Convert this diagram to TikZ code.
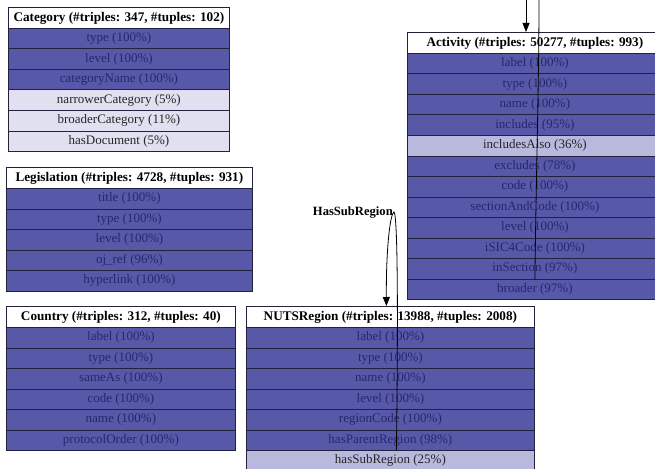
\documentclass[tikz,border=0pt]{standalone}
\usepackage{fontspec}
\setmainfont{Liberation Serif}
\usetikzlibrary{arrows.meta}
\definecolor{dk}{HTML}{5759A8}
\definecolor{md}{HTML}{B9B9DE}
\definecolor{lt}{HTML}{E0E0F0}
\definecolor{dkt}{HTML}{25276E}
\definecolor{edge}{HTML}{22223F}
\tikzset{
  cell/.style={draw=edge, line width=0.8pt, minimum height=20.5pt, inner sep=0pt,
    anchor=north west, font=\fontsize{13}{14}\selectfont},
  head/.style={cell, fill=white, minimum height=21pt, font=\bfseries\fontsize{13.2}{14}\selectfont},
  dkrow/.style={cell, fill=dk, text=dkt},
  mdrow/.style={cell, fill=md, text=black!85},
  ltrow/.style={cell, fill=lt, text=black!85},
  link/.style={draw=black, line width=0.8pt},
  tip/.style={-{Triangle[length=9pt,width=7pt]}},
}
\newcommand\mytable[6]{%
  \node[head, minimum width=#4pt] (#1h) at (#2,#3) {#5};
  \foreach \t/\s [count=\i] in {#6} {
    \node[\s, minimum width=#4pt] (#1\i) at (#2,{#3+21+(\i-1)*20.5}) {\t};
  }
}
\begin{document}
\begin{tikzpicture}[x=1pt,y=-1pt]
\useasboundingbox (0,0) rectangle (655,468);
\clip (0,0) rectangle (655,468);

\mytable{cat}{8}{7}{221}{Category (\#triples: 347, \#tuples: 102)}%
  {type (100\%)/dkrow, level (100\%)/dkrow, categoryName (100\%)/dkrow,
   narrowerCategory (5\%)/ltrow, broaderCategory (11\%)/ltrow, hasDocument (5\%)/ltrow}

\mytable{leg}{6}{167}{246}{Legislation (\#triples: 4728, \#tuples: 931)}%
  {title (100\%)/dkrow, type (100\%)/dkrow, level (100\%)/dkrow,
   oj\_ref (96\%)/dkrow, hyperlink (100\%)/dkrow}

\mytable{cty}{6}{306}{229}{Country (\#triples: 312, \#tuples: 40)}%
  {label (100\%)/dkrow, type (100\%)/dkrow, sameAs (100\%)/dkrow,
   code (100\%)/dkrow, name (100\%)/dkrow, protocolOrder (100\%)/dkrow}

\mytable{nut}{246}{306}{288}{NUTSRegion (\#triples: 13988, \#tuples: 2008)}%
  {label (100\%)/dkrow, type (100\%)/dkrow, name (100\%)/dkrow,
   level (100\%)/dkrow, regionCode (100\%)/dkrow, hasParentRegion (98\%)/dkrow,
   hasSubRegion (25\%)/mdrow}

\mytable{act}{407}{32}{255}{Activity (\#triples: 50277, \#tuples: 993)}%
  {label (100\%)/dkrow, type (100\%)/dkrow, name (100\%)/dkrow,
   includes (95\%)/dkrow, includesAlso (36\%)/mdrow, excludes (78\%)/dkrow,
   code (100\%)/dkrow, sectionAndCode (100\%)/dkrow, level (100\%)/dkrow,
   iSIC4Code (100\%)/dkrow, inSection (97\%)/dkrow, broader (97\%)/dkrow}

% edges into / out of Activity (their other ends lie outside the picture)
\coordinate (actin) at (526,0);
\coordinate (actout) at (539,0);
\draw[link,tip] (actin) -- (acth.north -| actin);
\draw[link] (act11.south) .. controls (536,180) and (539,80) .. (actout);

% HasSubRegion self loop
\draw[link,tip] ([xshift=6pt]nut7.north) .. controls (398,330) and (398,216) .. (394,212)
  .. controls (390,214) and (386,250) .. ([xshift=-4pt]nuth.north);
\node[anchor=east, inner sep=0pt, font=\bfseries\fontsize{12.6}{14}\selectfont] (lbl) at (393,213) {HasSubRegion};
\end{tikzpicture}
\end{document}
